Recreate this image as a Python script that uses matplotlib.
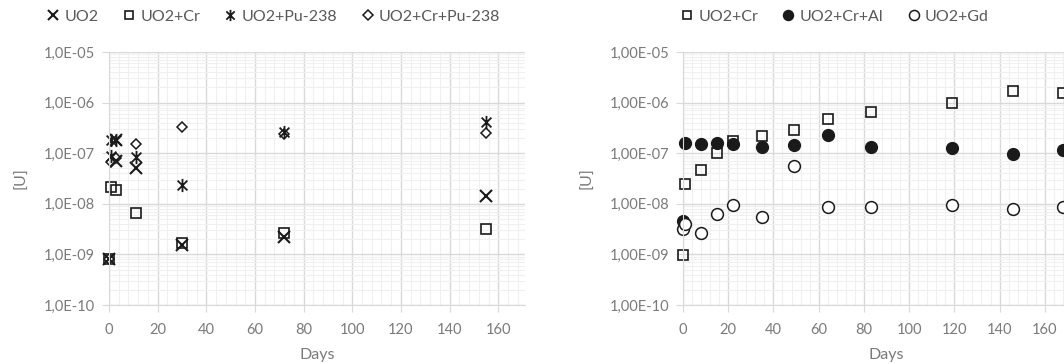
import matplotlib.pyplot as plt
from matplotlib.path import Path
from matplotlib.ticker import LogLocator, MultipleLocator, FixedLocator, FuncFormatter, NullFormatter

plt.rcParams['font.family'] = ['Lato', 'DejaVu Sans']

# left panel: days vs [U]
uo2_days = [0, 3, 3, 11, 30, 72, 155]
uo2_vals = [8.2e-10, 1.8e-7, 6.9e-8, 5.2e-8, 1.5e-9, 2.2e-9, 1.4e-8]

cr_days = [0, 1, 3, 11, 30, 72, 155]
cr_vals = [8.2e-10, 2.15e-8, 1.9e-8, 6.7e-9, 1.65e-9, 2.6e-9, 3.2e-9]

pu_days = [1, 1, 3, 11, 30, 72, 155]
pu_vals = [1.8e-7, 9.0e-8, 1.8e-7, 8.5e-8, 2.35e-8, 2.6e-7, 4.1e-7]

crpu_days = [0, 1, 3, 11, 30, 72, 155]
crpu_vals = [8.2e-10, 6.8e-8, 8.0e-8, 1.55e-7, 3.3e-7, 2.4e-7, 2.5e-7]

# right panel: days vs [U]
r_days = [0, 1, 8, 15, 22, 35, 49, 64, 83, 119, 146, 168]
r_cr_vals = [9.8e-10, 2.45e-8, 4.6e-8, 1.0e-7, 1.78e-7, 2.2e-7, 2.9e-7, 4.7e-7, 6.4e-7, 9.7e-7, 1.73e-6, 1.58e-6]
r_al_vals = [4.5e-9, 1.62e-7, 1.52e-7, 1.62e-7, 1.52e-7, 1.35e-7, 1.42e-7, 2.3e-7, 1.35e-7, 1.26e-7, 9.8e-8, 1.17e-7]
r_gd_vals = [3.2e-9, 4.0e-9, 2.6e-9, 6.3e-9, 9.4e-9, 5.5e-9, 5.5e-8, 8.7e-9, 8.5e-9, 9.3e-9, 7.8e-9, 8.7e-9]

x_ticks = [0, 20, 40, 60, 80, 100, 120, 140, 160]

# asterisk marker like the spreadsheet one (x with a vertical bar)
star = Path([(-1, -1), (1, 1), (-1, 1), (1, -1), (0, -1.35), (0, 1.35)],
            [Path.MOVETO, Path.LINETO] * 3)

ink = '#1a1a1a'
grey = '#7a7a7a'

fig = plt.figure(figsize=(10.64, 3.64), dpi=100)
axL = fig.add_axes([109 / 1064, 1 - 305 / 364, 416 / 1064, 253 / 364])
axR = fig.add_axes([683 / 1064, 1 - 305 / 364, 407 / 1064, 253 / 364])


def style(ax, xmax, fmt):
    ax.set_yscale('log')
    ax.set_ylim(1e-10, 1e-5)
    ax.set_xlim(0, xmax)
    ax.xaxis.set_major_locator(FixedLocator(x_ticks))
    ax.xaxis.set_minor_locator(MultipleLocator(4))
    ax.yaxis.set_major_locator(LogLocator(base=10, numticks=10))
    ax.yaxis.set_minor_locator(LogLocator(base=10, subs=range(2, 10), numticks=10))
    ax.yaxis.set_minor_formatter(NullFormatter())
    ax.yaxis.set_major_formatter(FuncFormatter(lambda v, _: format(v, fmt).replace('.', ',')))
    ax.grid(which='major', color='#d9d9d9', lw=1.0)
    ax.grid(which='minor', color='#f0f0f0', lw=0.8)
    ax.set_axisbelow(True)
    for s in ('top', 'right'):
        ax.spines[s].set_visible(False)
    for s in ('left', 'bottom'):
        ax.spines[s].set_color('#d9d9d9')
    ax.tick_params(which='major', length=5, color='#d9d9d9', labelcolor=grey, labelsize=10.5, pad=5)
    ax.tick_params(axis='x', which='major', pad=8)
    ax.tick_params(which='minor', length=0)
    ax.set_xlabel('Days', color=grey, fontsize=11.5, labelpad=8)
    ax.set_ylabel('[U]', color=grey, fontsize=11.5, labelpad=11)


style(axL, 171, '.1E')
style(axR, 180, '.2E')

axL.plot(uo2_days, uo2_vals, ls='none', marker='x', ms=8, mew=1.5, color=ink, label='UO2', clip_on=False)
axL.plot(cr_days, cr_vals, ls='none', marker='s', ms=7, mew=1.2, mfc='none', mec=ink, label='UO2+Cr', clip_on=False)
axL.plot(pu_days, pu_vals, ls='none', marker=star, ms=9.5, mew=1.3, color=ink, label='UO2+Pu-238', clip_on=False)
axL.plot(crpu_days, crpu_vals, ls='none', marker='D', ms=5.5, mew=1.1, mfc='none', mec=ink, label='UO2+Cr+Pu-238', clip_on=False)

axR.plot(r_days, r_cr_vals, ls='none', marker='s', ms=7.5, mew=1.2, mfc='none', mec=ink, label='UO2+Cr', clip_on=False)
axR.plot(r_days, r_al_vals, ls='none', marker='o', ms=8.5, mew=1.0, mfc=ink, mec=ink, label='UO2+Cr+Al', clip_on=False)
axR.plot(r_days, r_gd_vals, ls='none', marker='o', ms=8.5, mew=1.1, mfc='white', mec=ink, label='UO2+Gd', clip_on=False)

legkw = dict(ncol=4, frameon=False, fontsize=11.5, labelcolor='#595959', handletextpad=0.1,
             columnspacing=1.3, handlelength=1.2, markerscale=0.85)
fig.legend(*axL.get_legend_handles_labels(), loc='center', bbox_to_anchor=(272 / 1064, 1 - 17 / 364), **legkw)
legkw['ncol'] = 3
fig.legend(*axR.get_legend_handles_labels(), loc='center', bbox_to_anchor=(833 / 1064, 1 - 17 / 364), **legkw)

fig.savefig('out.png', dpi=100)
